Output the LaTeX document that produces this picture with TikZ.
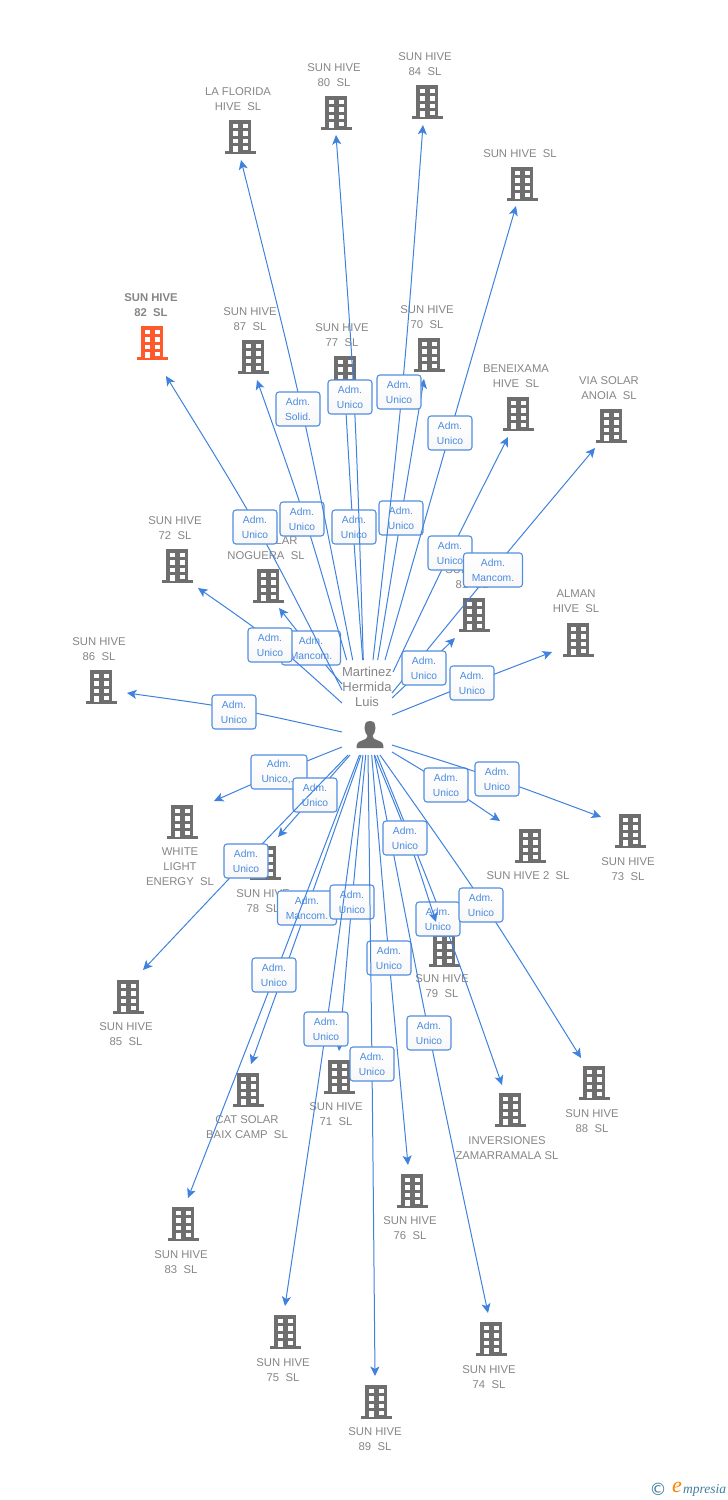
\documentclass[tikz,border=0pt]{standalone}
\usepackage{fontspec}
\setmainfont{Liberation Sans}
\newfontfamily\dejavu{DejaVu Sans}
\newfontfamily\lserif{Liberation Serif}
\usetikzlibrary{calc,arrows.meta}
\definecolor{bgray}{HTML}{6E6E6E}
\definecolor{borange}{HTML}{FF5A2B}
\definecolor{tgray}{HTML}{868686}
\definecolor{lnk}{HTML}{3F82DE}
\definecolor{lnkt}{HTML}{4A8BE2}
\definecolor{logob}{HTML}{3C7F9E}
\tikzset{
  conn/.style={draw=lnk,line width=1pt,-{Stealth[length=9.5pt,width=9pt,inset=2.4pt]}},
  adm/.style={draw=lnk!90,line width=1.1pt,rounded corners=3pt,top color=white,bottom color=white!97!black,
    text=lnkt,font=\fontsize{10.3}{15}\selectfont,align=center,minimum width=44pt,minimum height=34pt,inner sep=0pt},
  admw/.style={adm,minimum width=59pt},
  admm/.style={adm,minimum width=56pt},
  blabel/.style={text=tgray,font=\fontsize{11.3}{15}\selectfont,align=center,inner sep=0pt},
  plabel/.style={text=tgray,font=\fontsize{13}{15}\selectfont,align=center,inner sep=0pt},
}
% building icon: id, colour, centre
\newcommand{\bld}[3]{%
  \begin{scope}[shift={(#3)}]
    \node[minimum width=22pt,minimum height=31pt,inner sep=0pt] (#1) at (0,-2) {};
    \fill[#2] (-11,-17) rectangle (11,14.5);
    \fill[#2] (-15.5,14) rectangle (15.5,17);
    \foreach \wy in {-13.5,-6,1.5}{
      \fill[white] (-7.5,\wy) rectangle (-2.5,\wy+4.6);
      \fill[white] (2.5,\wy) rectangle (7.5,\wy+4.6);
    }
    \fill[white] (2.5,8.5) rectangle (7.5,13);
    \fill[white] (-7.5,8.5) rectangle (-2.5,14.5);
  \end{scope}}
% connector: id, start, end, point on the curve at its middle, label centre, label style, label text
\newcommand{\lnk}[7]{%
  \coordinate (s#1) at (#2);
  \coordinate (e#1) at (#3);
  \coordinate (m#1) at (#4);
  \draw[conn] (s#1) .. controls ($1.3333*(m#1)-0.1667*(s#1)-0.1667*(e#1)$) .. (e#1);
  \node[#6] (l#1) at (#5) {#7};}
\newcommand{\au}{Adm.\\Unico}
\begin{document}
\begin{tikzpicture}[x=1pt,y=-1pt]
\fill[white] (0,0) rectangle (728,1500);
\useasboundingbox (0,0) rectangle (728,1500);
% buildings
\bld{bFlorida}{bgray}{240,137}
\bld{b80}{bgray}{336,113}
\bld{b84}{bgray}{427,102}
\bld{bHive}{bgray}{522,184}
\bld{b82}{borange}{152,343}
\bld{b87}{bgray}{253,357}
\bld{b77}{bgray}{345,373}
\bld{b70}{bgray}{429,355}
\bld{bBene}{bgray}{518,414}
\bld{bAnoia}{bgray}{611,426}
\bld{b72}{bgray}{177,566}
\bld{bNog}{bgray}{268,586}
\bld{b81}{bgray}{474,615}
\bld{bAlman}{bgray}{578,640}
\bld{b86}{bgray}{101,687}
\bld{bWhite}{bgray}{182,822}
\bld{b78}{bgray}{265,863}
\bld{b2}{bgray}{530,846}
\bld{b73}{bgray}{630,831}
\bld{b79}{bgray}{444,950}
\bld{b85}{bgray}{128,997}
\bld{b88}{bgray}{594,1083}
\bld{bInv}{bgray}{510,1110}
\bld{b71}{bgray}{339,1077}
\bld{bCat}{bgray}{248,1090}
\bld{b76}{bgray}{412,1191}
\bld{b83}{bgray}{183,1224}
\bld{b75}{bgray}{285,1332}
\bld{b74}{bgray}{491,1339}
\bld{b89}{bgray}{376,1402}
% building labels
\node[blabel] (tFlorida) at (238,99) {LA FLORIDA\\HIVE\ \ SL};
\node[blabel] (t80) at (334,75) {SUN HIVE\\80\ \ SL};
\node[blabel] (t84) at (425,64) {SUN HIVE\\84\ \ SL};
\node[blabel] (tHive) at (520,153.5) {SUN HIVE\ \ SL};
\node[blabel,font=\fontsize{11.3}{15}\bfseries\selectfont] (t82) at (151,305) {SUN HIVE\\82\ \ SL};
\node[blabel] (t87) at (250,319) {SUN HIVE\\87\ \ SL};
\node[blabel] (t77) at (342,335) {SUN HIVE\\77\ \ SL};
\node[blabel] (t70) at (427,317) {SUN HIVE\\70\ \ SL};
\node[blabel] (tBene) at (516,376) {BENEIXAMA\\HIVE\ \ SL};
\node[blabel] (tAnoia) at (609,388) {VIA SOLAR\\ANOIA\ \ SL};
\node[blabel] (t72) at (175,528) {SUN HIVE\\72\ \ SL};
\node[blabel] (tNog) at (266,548) {CAT SOLAR\\NOGUERA\ \ SL};
\node[blabel] (t81) at (472,577) {SUN HIVE\\81\ \ SL};
\node[blabel] (tAlman) at (576,601) {ALMAN\\HIVE\ \ SL};
\node[blabel] (t86) at (99,649) {SUN HIVE\\86\ \ SL};
\node[blabel] (tWhite) at (180,866.5) {WHITE\\LIGHT\\ENERGY\ \ SL};
\node[blabel] (t78) at (263,901) {SUN HIVE\\78\ \ SL};
\node[blabel] (t2) at (528,875.5) {SUN HIVE 2\ \ SL};
\node[blabel] (t73) at (628,869) {SUN HIVE\\73\ \ SL};
\node[blabel] (t79) at (442,986) {SUN HIVE\\79\ \ SL};
\node[blabel] (t85) at (126,1034) {SUN HIVE\\85\ \ SL};
\node[blabel] (t88) at (592,1121) {SUN HIVE\\88\ \ SL};
\node[blabel] (tInv) at (507,1148) {INVERSIONES\\ZAMARRAMALA SL};
\node[blabel] (t71) at (336,1114) {SUN HIVE\\71\ \ SL};
\node[blabel] (tCat) at (247,1127) {CAT SOLAR\\BAIX CAMP\ \ SL};
\node[blabel] (t76) at (410,1228) {SUN HIVE\\76\ \ SL};
\node[blabel] (t83) at (181,1262) {SUN HIVE\\83\ \ SL};
\node[blabel] (t75) at (283,1370) {SUN HIVE\\75\ \ SL};
\node[blabel] (t74) at (489,1377) {SUN HIVE\\74\ \ SL};
\node[blabel] (t89) at (375,1439) {SUN HIVE\\89\ \ SL};
% person
\node[plabel] (person) at (367,687) {Martinez\\Hermida\\Luis};
\node[minimum width=28pt,minimum height=28pt,inner sep=0pt] (hub) at (370,735) {};
\fill[bgray] (370,721) .. controls (365,721) and (364.5,725) .. (364.5,728)
  .. controls (364.5,731) and (366,734) .. (367.5,736) .. controls (367.5,738) and (366,739) .. (362,740.5)
  .. controls (358,742) and (356.5,743) .. (356.5,748) -- (383.5,748)
  .. controls (383.5,743) and (382,742) .. (378,740.5) .. controls (374,739) and (372.5,738) .. (372.5,736)
  .. controls (374,734) and (375.5,731) .. (375.5,728) .. controls (375.5,725) and (375,721) .. (370,721) -- cycle;
% connectors and their labels
\lnk{Nog}{342,684}{279,608}{311,648}{311,648}{admw}{Adm.\\Mancom.}
\lnk{72}{342,703}{198,588}{270,640}{270,645}{adm}{\au}
\lnk{86}{342,732}{127,693}{234,709}{234,712}{adm}{\au}
\lnk{82}{342,690}{166,376}{257,527}{255,527}{adm}{\au}
\lnk{87}{346.7,660}{257,380}{305,519}{302,519}{adm}{\au}
\lnk{Florida}{352.7,660}{241,160}{302,410}{298,409}{adm}{Adm.\\Solid.}
\lnk{77}{362.7,660}{345,395}{353,527}{354,527}{adm}{\au}
\lnk{80}{363.3,660}{336,135}{354,397}{350,397}{adm}{\au}
\lnk{70}{377.7,660}{424,379}{401,518}{401,518}{adm}{\au}
\lnk{84}{373,660}{423,125}{402,392}{399,392}{adm}{\au}
\lnk{Hive}{385,660}{516,206}{450,433}{450,433}{adm}{\au}
\lnk{Bene}{393,672}{508,437}{450,553}{450,553}{adm}{\au}
\lnk{Anoia}{392,693}{595,448}{493,570}{493,570}{admw}{Adm.\\Mancom.}
\lnk{81}{392,698}{455,638}{424,668}{424,668}{adm}{\au}
\lnk{Alman}{392,715}{552,652}{472,683}{472,683}{adm}{\au}
\lnk{White}{342,747}{214,801}{278,773}{279,772}{admm}{Adm.\\Unico,..}
\lnk{78}{350,755}{278,837}{314,796}{315,795}{adm}{\au}
\lnk{85}{348,755}{143,970}{246,861}{246,861}{adm}{\au}
\lnk{Cat}{361,755}{251,1064}{307,908}{307,908}{admw}{Adm.\\Mancom.}
\lnk{83}{359.5,755}{188,1198}{275,975}{274,975}{adm}{\au}
\lnk{71}{365.7,755}{339,1051}{352,902}{352,902}{adm}{\au}
\lnk{75}{363,755}{285,1306}{326,1029}{326,1029}{adm}{\au}
\lnk{76}{371.7,755}{408,1165}{389,958}{389,958}{adm}{\au}
\lnk{89}{368,755}{375,1376}{372,1064}{372,1064}{adm}{\au}
\lnk{74}{374.3,755}{488,1313}{429,1033}{429,1033}{adm}{\au}
\lnk{Inv}{377,755}{502,1085}{443,920}{438,919}{adm}{\au}
\lnk{79}{374.5,755}{436,922}{408,838}{405,838}{adm}{\au}
\lnk{88}{380,755}{581,1058}{485,906}{481,905}{adm}{\au}
\lnk{2}{392,752}{500,821}{446,785}{446,785}{adm}{\au}
\lnk{73}{392,745}{601,817}{497,779}{497,779}{adm}{\au}
% logo
\node[text=logob,font=\dejavu\fontsize{17}{17}\selectfont,inner sep=0pt] (logoC) at (658,1489) {©};
\node[text=orange,font=\lserif\itshape\fontsize{22}{22}\selectfont,inner sep=0pt] (logoE) at (677,1487) {e};
\node[text=logob,font=\lserif\itshape\fontsize{13.5}{13.5}\selectfont,inner sep=0pt,anchor=west] (logoT) at (683,1490) {mpresia};
\end{tikzpicture}
\end{document}
